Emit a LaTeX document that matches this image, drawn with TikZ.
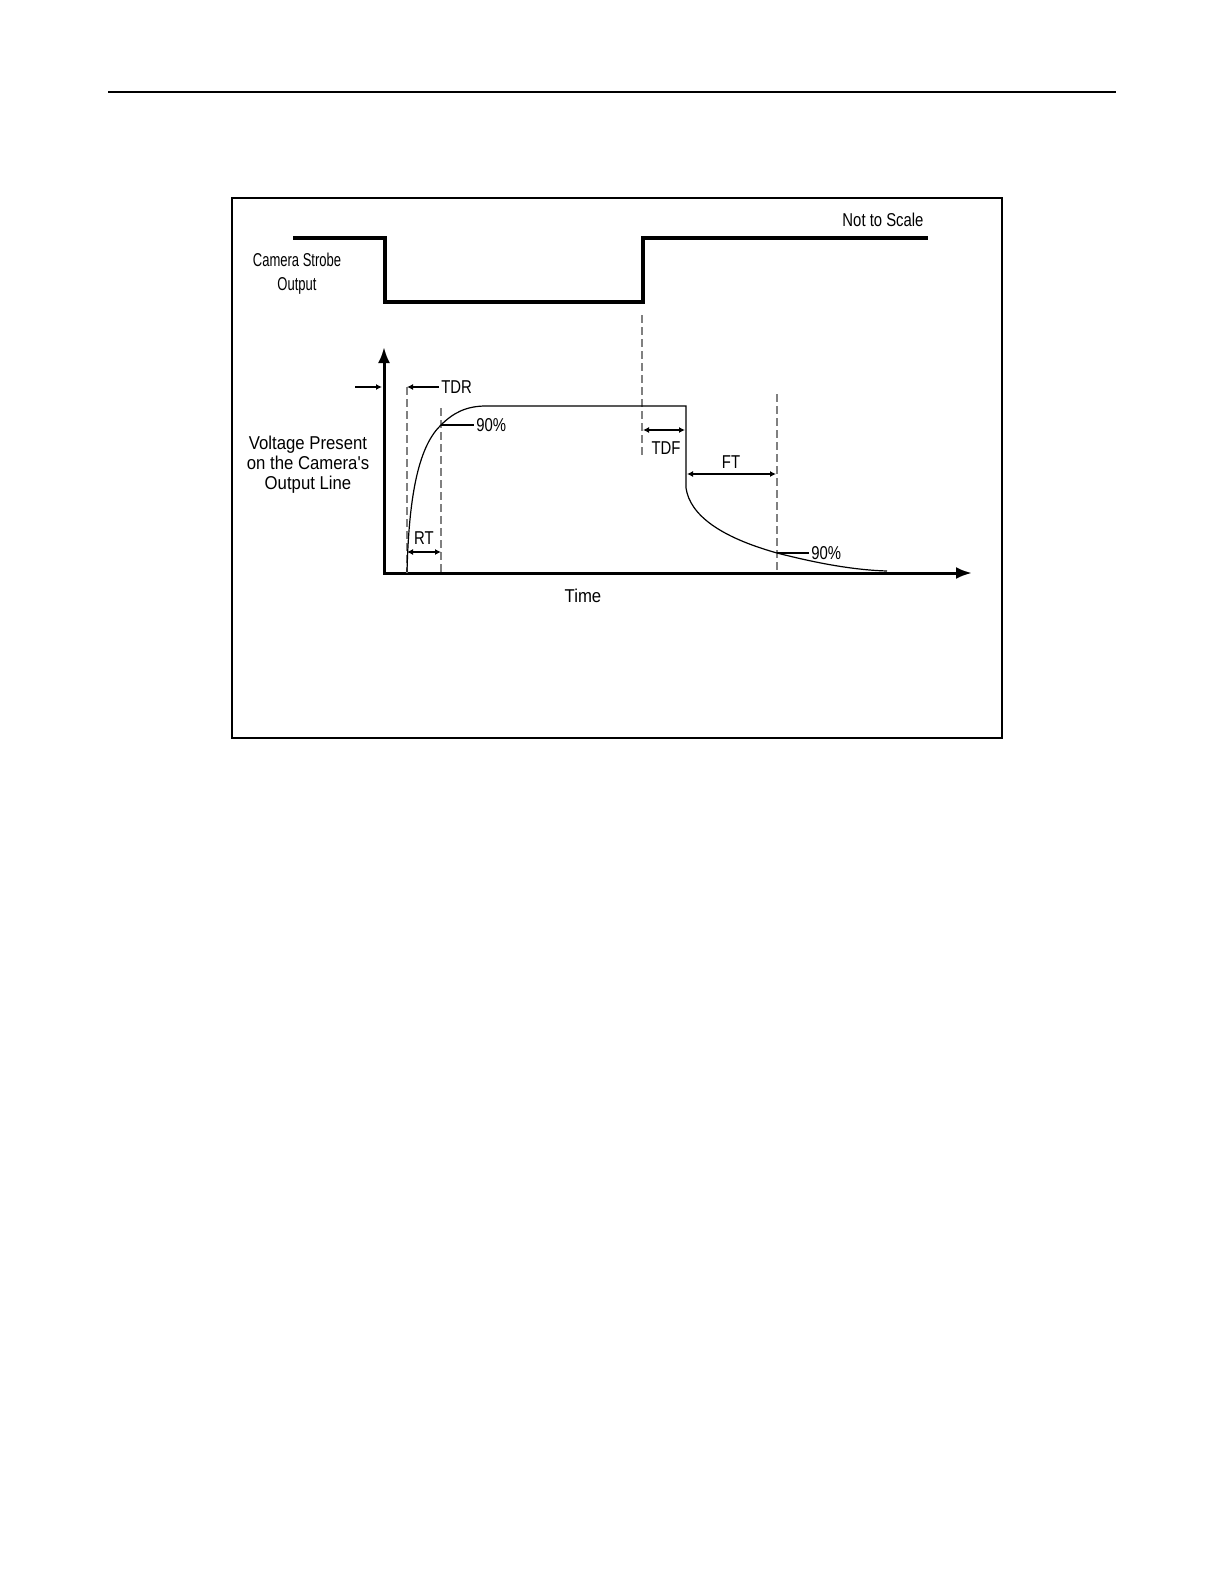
\documentclass[tikz,border=0pt]{standalone}
\usepackage{fontspec}
\setmainfont{Liberation Sans}
\newfontfamily\lblfont[FakeStretch=0.8]{Liberation Sans}
\newfontfamily\wlblfont[FakeStretch=0.9]{Liberation Sans}
\newfontfamily\nlblfont[FakeStretch=0.7]{Liberation Sans}
\usetikzlibrary{arrows.meta}

\begin{document}
\begin{tikzpicture}[x=0.5pt, y=-0.5pt,
	text node/.style={inner sep=1pt, font=\fontsize{9.3}{10}\lblfont},
	wave line/.style={line width=1.6pt},
	frame line/.style={line width=1pt},
	axis line/.style={line width=1.5pt, {Latex[length=8pt,width=6pt]}-{Latex[length=8pt,width=6pt]}},
	guide line/.style={black!50, line width=0.6pt, dash pattern=on 4pt off 2pt},
	curve line/.style={line width=0.6pt},
	dim arrow/.style={line width=0.6pt, {Latex[length=3pt,width=3pt]}-{Latex[length=3pt,width=3pt]}},
	tip arrow/.style={line width=0.6pt, -{Latex[length=3pt,width=3pt]}}]
	
	\useasboundingbox (0,0) rectangle (1224,1584);
	
	% page rule and frame
	\coordinate (rule a) at (108,92);
	\coordinate (rule b) at (1116,92);
	\draw[frame line] (rule a) -- (rule b);
	\coordinate (frame a) at (232,198);
	\coordinate (frame b) at (1002,738);
	\draw[frame line] (frame a) rectangle (frame b);
	
	% strobe output
	\coordinate (s0) at (293,238);
	\coordinate (s1) at (385,238);
	\coordinate (s2) at (385,302);
	\coordinate (s3) at (643,302);
	\coordinate (s4) at (643,238);
	\coordinate (s5) at (928,238);
	\draw[wave line] (s0) -- (s1) -- (s2) -- (s3) -- (s4) -- (s5);
	
	\node[text node, align=center, font=\fontsize{9.3}{12}\nlblfont] (strobe) at (297,274) {Camera Strobe\\Output};
	\node[text node] (scale) at (883,220) {Not to Scale};
	
	% axes
	\coordinate (ytip) at (384,347);
	\coordinate (xtip) at (972,573);
	\draw[axis line] (ytip) |- (xtip);
	
	\node[text node, align=center, font=\fontsize{9.3}{10}\wlblfont] (volt) at (308,465) {Voltage Present\\on the Camera's\\Output Line};
	\node[text node, font=\fontsize{9.3}{10}\wlblfont] (time) at (583,596) {Time};
	
	% dashed guides
	\coordinate (g1a) at (407,387);
	\coordinate (g1b) at (407,573);
	\coordinate (g2a) at (441,408);
	\coordinate (g2b) at (441,573);
	\coordinate (g3a) at (642,315);
	\coordinate (g3b) at (642,458);
	\coordinate (g4a) at (777,394);
	\coordinate (g4b) at (777,573);
	\draw[guide line] (g1a) -- (g1b);
	\draw[guide line] (g2a) -- (g2b);
	\draw[guide line] (g3a) -- (g3b);
	\draw[guide line] (g4a) -- (g4b);
	
	% voltage curve
	\coordinate (rise) at (407,572);
	\coordinate (up90) at (441,425);
	\coordinate (top) at (486,406);
	\coordinate (drop) at (686,406);
	\coordinate (knee) at (686,488);
	\coordinate (down90) at (777,553);
	\coordinate (tail) at (887,571);
	\draw[curve line] (rise) .. controls (409,490) and (420,445) .. (up90)
	.. controls (453,413) and (466,406) .. (top) -- (drop) -- (knee)
	.. controls (690,515) and (720,537) .. (down90)
	.. controls (820,564) and (855,570) .. (tail);
	
	% timing marks
	\node[text node, anchor=west] (tdr) at (439,387) {TDR};
	\coordinate (ax) at (355,387);
	\coordinate (ay) at (382,387);
	\draw[tip arrow] (ax) -- (ay);
	\draw[tip arrow] (tdr.west) -- (g1a);
	
	\node[text node, anchor=west] (p1) at (474,425) {90\%};
	\draw[curve line] (up90) -- (p1.west);
	
	\node[text node] (rt) at (424,538) {RT};
	\coordinate (rt a) at (407,552);
	\coordinate (rt b) at (441,552);
	\draw[dim arrow] (rt a) -- (rt b);
	
	\node[text node] (tdf) at (666,448) {TDF};
	\coordinate (tdf a) at (643,430);
	\coordinate (tdf b) at (685,430);
	\draw[dim arrow] (tdf a) -- (tdf b);
	
	\node[text node] (ft) at (731,462) {FT};
	\coordinate (ft a) at (687,474);
	\coordinate (ft b) at (776,474);
	\draw[dim arrow] (ft a) -- (ft b);
	
	\node[text node, anchor=west] (p2) at (809,553) {90\%};
	\draw[curve line] (down90) -- (p2.west);
\end{tikzpicture}
\end{document}
